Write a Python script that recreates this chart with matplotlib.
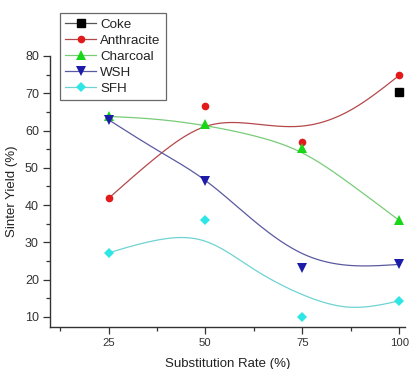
import numpy as np
import matplotlib
matplotlib.use("Agg")
import matplotlib.pyplot as plt
from matplotlib.ticker import MultipleLocator

plt.rcParams['font.family'] = ['Liberation Sans', 'DejaVu Sans']

# measured points
rate = [25, 50, 75, 100]
coke_x = [100]
coke = [70.4]
anthracite = [41.8, 66.6, 56.8, 74.8]
charcoal = [63.8, 61.8, 55.3, 35.9]
wsh = [62.9, 46.6, 23.0, 24.1]
sfh = [27.2, 36.1, 10.0, 14.3]

# smoothed trend lines
curve_x = [25, 37.5, 50, 62.5, 75, 87.5, 100]
anthracite_fit = [41.8, 53.0, 61.1, 61.8, 61.2, 65.5, 74.8]
charcoal_fit = [63.8, 63.0, 61.3, 58.6, 54.0, 45.6, 35.9]
wsh_fit = [62.9, 54.8, 46.6, 35.8, 27.0, 23.8, 24.1]
sfh_fit = [27.2, 30.6, 30.3, 22.8, 16.0, 12.6, 14.3]


def spline(xk, yk, n=200):
    # natural cubic spline through the knots
    xk = np.asarray(xk, float)
    yk = np.asarray(yk, float)
    k = len(xk)
    h = np.diff(xk)
    A = np.zeros((k, k))
    b = np.zeros(k)
    A[0, 0] = A[-1, -1] = 1
    for i in range(1, k - 1):
        A[i, i - 1] = h[i - 1]
        A[i, i] = 2 * (h[i - 1] + h[i])
        A[i, i + 1] = h[i]
        b[i] = 6 * ((yk[i + 1] - yk[i]) / h[i] - (yk[i] - yk[i - 1]) / h[i - 1])
    M = np.linalg.solve(A, b)
    xs = np.linspace(xk[0], xk[-1], n)
    j = np.clip(np.searchsorted(xk, xs) - 1, 0, k - 2)
    t = xs - xk[j]
    hj = h[j]
    ys = (M[j] * (xk[j + 1] - xs) ** 3 / (6 * hj) + M[j + 1] * t ** 3 / (6 * hj)
          + (yk[j] / hj - M[j] * hj / 6) * (xk[j + 1] - xs)
          + (yk[j + 1] / hj - M[j + 1] * hj / 6) * t)
    return xs, ys


fig = plt.figure(figsize=(4.11, 3.69), dpi=100)
ax = fig.add_axes([50 / 411, 42 / 369, 355 / 411, 271 / 369])

series = [
    ("Anthracite", anthracite, anthracite_fit, 'o', '#e31a1c', '#b5484a', 5.5),
    ("Charcoal", charcoal, charcoal_fit, '^', '#19d619', '#78cc78', 6.5),
    ("WSH", wsh, wsh_fit, 'v', '#1c1ca8', '#5a5aa0', 6.5),
    ("SFH", sfh, sfh_fit, 'D', '#2ee6e6', '#6fd3d3', 5),
]

handles = []
ax.plot(coke_x, coke, 's', color='black', markersize=5.5)
handles.append(plt.Line2D([], [], color='#555555', lw=0.9, marker='s',
                          markersize=5.5, markerfacecolor='black', markeredgecolor='black'))
for name, pts, fit, mk, mc, lc, ms in series:
    xs, ys = spline(curve_x, fit)
    ax.plot(xs, ys, color=lc, lw=0.9)
    ax.plot(rate, pts, mk, color=mc, markersize=ms, markeredgewidth=0)
    handles.append(plt.Line2D([], [], color=lc, lw=0.9, marker=mk, markersize=ms,
                              markerfacecolor=mc, markeredgewidth=0))

ax.set_xlim(9.9, 101.5)
ax.set_ylim(7.3, 80)
ax.set_xticks(rate)
ax.xaxis.set_minor_locator(MultipleLocator(12.5))
ax.set_yticks(np.arange(10, 81, 10))
ax.yaxis.set_minor_locator(MultipleLocator(5))
ax.tick_params(which='major', length=5, width=0.9, colors='#333333', pad=3)
ax.tick_params(axis='x', which='major', labelsize=8.2)
ax.tick_params(axis='y', which='major', labelsize=9)
ax.tick_params(which='minor', length=3, width=0.9, colors='#333333')
for s in ['top', 'right']:
    ax.spines[s].set_visible(False)
for s in ['left', 'bottom']:
    ax.spines[s].set_linewidth(1.0)
    ax.spines[s].set_color('#333333')

ax.set_xlabel("Substitution Rate (%)", fontsize=9.5, color='#222222', labelpad=7)
ax.set_ylabel("Sinter Yield (%)", fontsize=9.5, color='#222222', labelpad=5)

leg = ax.legend(handles, ["Coke", "Anthracite", "Charcoal", "WSH", "SFH"],
                loc='upper left', bbox_to_anchor=(0.028, 1.159), borderaxespad=0,
                fontsize=9.6, frameon=True, fancybox=False, handlelength=2.3,
                handletextpad=0.3, labelspacing=0.28, borderpad=0.4)
leg.get_frame().set_edgecolor('#444444')
leg.get_frame().set_linewidth(0.9)
for t in leg.get_texts():
    t.set_color('#222222')

fig.savefig("out.png", dpi=100)
